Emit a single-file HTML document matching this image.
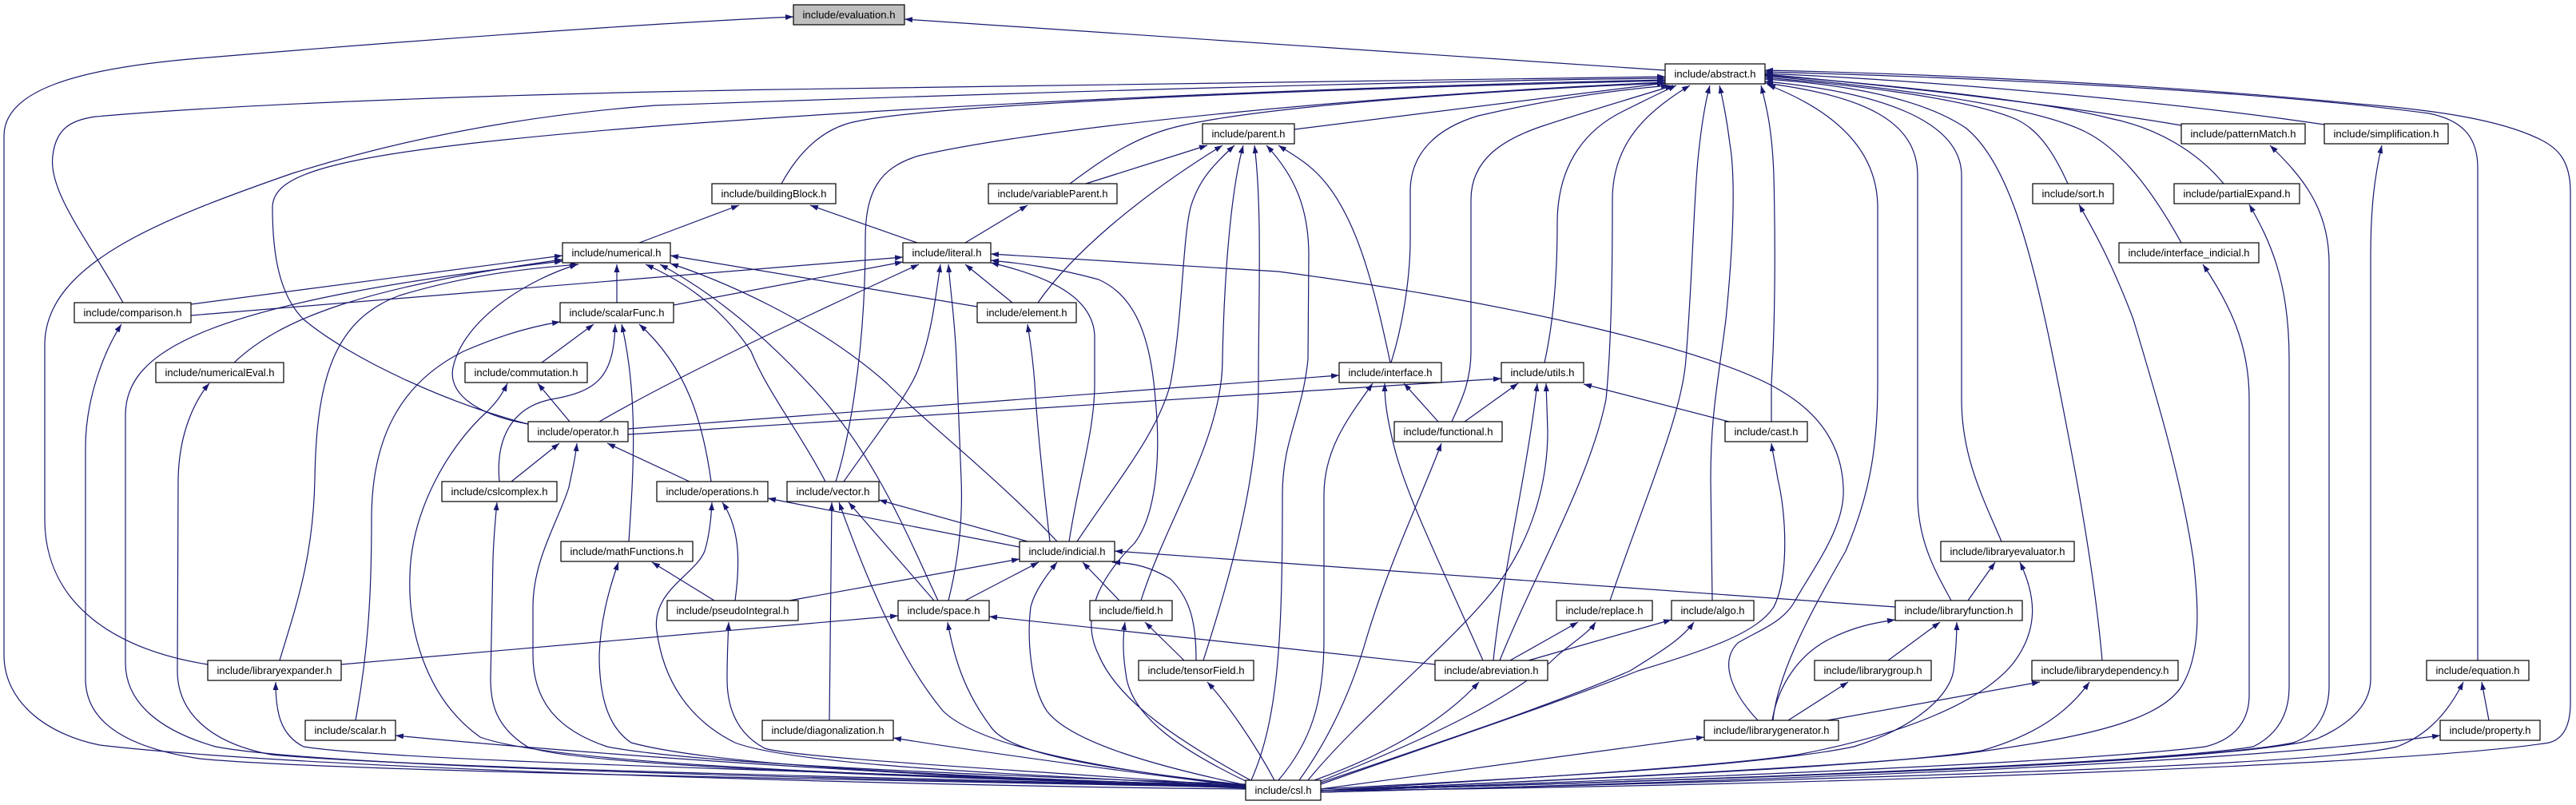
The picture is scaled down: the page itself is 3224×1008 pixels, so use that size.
<!DOCTYPE html>
<html><head><meta charset="utf-8"><style>
html,body{margin:0;padding:0;background:#fff;}
svg{display:block;}
text{font-family:"Liberation Sans",Arial,sans-serif;font-size:13px;fill:#000;}
</style></head><body>
<svg xmlns="http://www.w3.org/2000/svg" width="3224" height="1008" viewBox="0 0 3224 1008">
<defs>
<marker id="ah" viewBox="0 0 10 7" refX="10" refY="3.5" markerWidth="10" markerHeight="7" markerUnits="userSpaceOnUse" orient="auto"><path d="M0,0L10,3.5L0,7z" fill="#191970"/></marker>
</defs>
<rect width="3224" height="1008" fill="#fff"/>
<g fill="none" stroke="#191970" stroke-width="1.2" marker-end="url(#ah)">
<path d="M2084,88 L1132,24"/>
<path d="M1559,988 C1200,985 400,965 125,933 C60,920 5,880 5,820 L5,170 C5,115 90,85 261,72 C500,52 800,30 993,21"/>
<path d="M154,379 C110,300 60,240 66,195 C70,160 90,150 120,146 C300,130 600,120 820,115 C1300,105 1800,98 2084,96"/>
<path d="M260,832 C150,815 56,760 56,650 L56,430 C58,330 200,275 366,217 C500,175 650,145 820,132 C1300,115 1800,101 2084,98"/>
<path d="M661,531 C560,505 440,450 380,400 C350,370 341,320 341,260 C341,215 420,190 820,158 C1300,122 1800,106 2084,100"/>
<path d="M978,230 C1000,190 1030,160 1072,152 C1150,135 1500,115 2084,101"/>
<path d="M1046,603 C1060,560 1083,450 1083,300 C1083,240 1100,210 1150,195 C1300,160 1700,120 2084,103"/>
<path d="M1339,230 C1380,200 1420,170 1480,157 C1600,130 1900,112 2084,104"/>
<path d="M1620,162 L2084,104"/>
<path d="M1741,454 C1758,400 1765,340 1765,300 L1765,240 C1765,190 1800,160 1850,145 C1950,122 2030,112 2089,107"/>
<path d="M1817,528 C1827,505 1841,480 1841,440 L1841,250 C1841,200 1880,175 1930,158 C2000,135 2060,118 2094,107"/>
<path d="M1933,454 C1945,400 1949,340 1949,280 C1949,200 1990,160 2030,140 C2060,125 2080,115 2098,107"/>
<path d="M1877,827 C1920,720 1990,600 2010,500 C2018,420 2018,300 2018,250 C2018,180 2060,140 2115,107"/>
<path d="M2015,752 C2060,620 2105,520 2110,450 C2118,350 2120,250 2125,200 C2130,150 2135,125 2140,107"/>
<path d="M2143,752 L2141,600 C2141,520 2150,480 2160,400 C2170,300 2172,220 2165,180 C2160,140 2155,120 2152,107"/>
<path d="M2217,528 L2217,480 C2222,400 2222,300 2220,220 C2218,160 2210,130 2204,107"/>
<path d="M2219,902 C2225,840 2270,760 2310,690 C2340,620 2350,560 2350,480 L2350,260 C2350,190 2300,140 2212,106"/>
<path d="M2442,752 C2425,720 2400,680 2400,620 L2400,220 C2400,150 2330,120 2209,104"/>
<path d="M2505,678 C2480,620 2455,570 2455,500 L2455,220 C2455,150 2350,115 2209,102"/>
<path d="M2631,827 C2620,700 2590,550 2570,450 C2540,300 2510,200 2460,160 C2400,120 2300,105 2209,99"/>
<path d="M2588,230 C2570,190 2550,160 2520,148 C2450,120 2300,105 2209,97"/>
<path d="M2730,304 C2700,250 2660,190 2610,165 C2540,130 2350,108 2209,95"/>
<path d="M2783,230 C2750,190 2700,160 2640,148 C2550,125 2350,105 2209,94"/>
<path d="M2730,157 C2600,135 2400,110 2209,93"/>
<path d="M2909,156 C2700,125 2400,100 2209,92"/>
<path d="M3101,827 L3101,210 C3101,170 3080,150 3040,142 C2800,110 2400,95 2209,90"/>
<path d="M1653,990 C2200,985 3000,960 3190,930 C3210,925 3217,905 3217,880 L3217,240 C3217,200 3200,185 3180,175 C3130,150 3050,138 2950,130 C2700,105 2400,92 2209,88"/>
<path d="M1359,230 L1511,182"/>
<path d="M1299,379 C1340,320 1420,250 1530,182"/>
<path d="M1348,678 C1400,600 1450,540 1465,480 C1480,400 1480,300 1490,260 C1500,225 1520,205 1545,182"/>
<path d="M1428,752 C1460,650 1530,550 1530,450 C1532,350 1540,240 1556,182"/>
<path d="M1506,827 C1540,720 1575,600 1575,480 C1575,380 1580,260 1570,182"/>
<path d="M1566,977 C1600,900 1605,800 1605,620 C1605,550 1630,520 1637,450 L1638,320 C1638,260 1620,220 1585,182"/>
<path d="M1740,454 C1720,360 1700,280 1660,230 C1640,205 1620,195 1600,182"/>
<path d="M800,304 L925,257"/>
<path d="M1148,304 L1014,257"/>
<path d="M1208,304 L1286,257"/>
<path d="M239,381 L704,320"/>
<path d="M293,454 C350,400 450,360 704,325"/>
<path d="M1559,985 C1000,975 400,960 270,935 C200,915 157,880 157,830 L157,520 C157,440 250,380 704,327"/>
<path d="M661,531 C600,520 560,495 567,460 C580,400 660,350 723,331"/>
<path d="M350,827 C370,760 392,700 394,600 C396,470 420,400 500,370 C600,340 680,335 724,331"/>
<path d="M772,379 L772,331"/>
<path d="M1223,384 L839,320"/>
<path d="M1033,603 C1000,540 960,490 940,440 C900,380 850,350 808,331"/>
<path d="M1174,752 C1140,680 1100,580 1030,500 C950,410 880,360 826,331"/>
<path d="M1323,678 C1250,600 1160,530 1110,480 C1020,400 900,350 839,330"/>
<path d="M239,395 L1130,322"/>
<path d="M843,382 L1130,328"/>
<path d="M750,528 C850,470 1000,400 1150,331"/>
<path d="M1056,603 C1100,540 1140,490 1150,460 C1165,420 1170,380 1177,331"/>
<path d="M1187,752 C1200,700 1205,650 1203,600 L1197,450 C1195,400 1190,370 1187,331"/>
<path d="M1267,379 L1208,331"/>
<path d="M1338,678 C1350,600 1370,540 1370,480 L1370,420 C1368,380 1330,350 1240,329"/>
<path d="M1565,977 C1480,930 1400,880 1375,820 C1350,770 1380,720 1420,680 C1450,640 1452,560 1446,500 C1440,420 1420,370 1375,350 C1320,335 1280,330 1240,326"/>
<path d="M2200,902 C2170,870 2150,830 2175,805 C2200,790 2230,780 2245,755 C2270,710 2310,660 2307,610 C2305,560 2280,520 2230,490 C2150,440 1900,380 1600,340 C1450,330 1300,322 1240,318"/>
<path d="M1314,678 C1305,600 1297,520 1295,480 C1292,440 1288,420 1286,406"/>
<path d="M678,454 L743,406"/>
<path d="M625,603 C620,550 640,510 690,500 C750,490 768,470 770,406"/>
<path d="M787,678 C792,600 800,500 778,406"/>
<path d="M890,603 C880,530 860,460 800,406"/>
<path d="M445,902 C460,820 465,750 465,650 C465,550 500,480 580,440 C630,418 670,408 701,403"/>
<path d="M713,528 L673,480"/>
<path d="M1559,983 C1200,975 700,960 601,923 C540,880 510,800 513,720 C515,640 560,560 610,515 C620,505 628,495 635,480"/>
<path d="M640,603 L700,555"/>
<path d="M1559,982 C1200,970 860,955 760,935 C700,915 667,880 667,820 L667,760 C667,700 700,650 712,610 C716,590 720,575 722,555"/>
<path d="M863,603 L760,555"/>
<path d="M786,537 L1676,470"/>
<path d="M1600,977 C1640,930 1657,880 1657,800 L1657,620 C1657,560 1690,520 1718,480"/>
<path d="M1856,827 C1800,700 1760,620 1745,560 C1735,520 1733,500 1733,480"/>
<path d="M1800,528 L1757,480"/>
<path d="M786,544 L1879,474"/>
<path d="M1833,528 L1900,480"/>
<path d="M1869,827 C1880,720 1910,600 1924,480"/>
<path d="M1637,977 C1700,900 1800,820 1860,750 C1920,680 1937,600 1937,540 L1935,480"/>
<path d="M2164,528 L1982,481"/>
<path d="M1626,977 C1660,930 1690,870 1710,800 C1740,700 1780,620 1804,555"/>
<path d="M1653,982 C1800,930 1950,880 2050,840 C2150,810 2200,790 2220,760 C2240,720 2235,640 2225,600 C2222,580 2219,570 2217,555"/>
<path d="M1890,827 L1975,779"/>
<path d="M1653,978 C1800,920 1900,870 1950,820 C1975,800 1990,790 1997,779"/>
<path d="M1913,827 L2092,776"/>
<path d="M1653,980 C1800,930 1950,880 2040,840 C2080,815 2105,800 2120,779"/>
<path d="M1645,977 C1720,950 1800,910 1851,854"/>
<path d="M427,832 L1124,771"/>
<path d="M1796,832 L1238,772"/>
<path d="M1559,983 C1350,960 1260,940 1240,910 C1210,870 1195,830 1186,779"/>
<path d="M1038,902 L1041,629"/>
<path d="M1559,984 C1350,960 1220,930 1180,890 C1130,830 1090,740 1050,629"/>
<path d="M1169,752 L1062,629"/>
<path d="M1286,678 L1100,626"/>
<path d="M1276,685 L961,624"/>
<path d="M920,752 C927,700 925,660 904,629"/>
<path d="M1559,985 C1300,970 1000,960 920,930 C860,900 830,850 822,790 C815,740 870,720 882,690 C888,670 890,650 891,629"/>
<path d="M1559,985 C1200,975 720,960 660,935 C620,910 614,880 614,850 L617,700 C618,670 620,650 622,629"/>
<path d="M894,752 L816,704"/>
<path d="M1559,985 C1200,972 900,960 790,930 C760,910 750,870 750,820 C752,770 765,730 774,704"/>
<path d="M988,752 L1276,700"/>
<path d="M1208,752 L1300,704"/>
<path d="M1559,983 C1450,960 1340,930 1310,890 C1290,860 1285,800 1290,760 C1295,740 1310,720 1323,704"/>
<path d="M1401,752 L1355,704"/>
<path d="M1497,827 C1497,780 1490,750 1465,725 C1440,710 1420,705 1392,704"/>
<path d="M2372,760 L1395,690"/>
<path d="M1559,985 C1300,965 1000,950 957,937 C925,920 910,890 910,850 C910,820 911,800 912,779"/>
<path d="M1559,978 C1480,940 1420,900 1410,850 C1405,820 1405,800 1408,779"/>
<path d="M1482,827 L1433,779"/>
<path d="M1595,977 C1570,930 1535,880 1511,854"/>
<path d="M1559,985 C1200,970 500,955 380,935 C350,920 345,890 345,854"/>
<path d="M1559,986 C1000,975 400,965 250,950 C150,935 107,900 107,850 L107,560 C107,500 130,440 152,406"/>
<path d="M1559,985 C1000,972 500,960 340,945 C260,930 222,890 222,840 L223,600 C224,540 245,500 262,480"/>
<path d="M1559,987 C1200,975 800,950 495,921"/>
<path d="M1559,985 C1400,965 1250,945 1118,924"/>
<path d="M1653,988 L2133,923"/>
<path d="M2287,902 L2553,854"/>
<path d="M1653,990 C2000,975 2350,960 2480,940 C2550,920 2590,890 2615,854"/>
<path d="M2238,902 L2313,854"/>
<path d="M2218,902 C2225,860 2250,820 2290,800 C2320,785 2345,780 2372,776"/>
<path d="M2363,827 L2428,779"/>
<path d="M1653,988 C1900,975 2200,960 2320,935 C2400,910 2440,870 2445,840 C2448,815 2449,800 2449,779"/>
<path d="M2463,752 L2497,704"/>
<path d="M1653,990 C1900,975 2150,960 2250,945 C2380,920 2480,880 2520,830 C2550,790 2550,750 2528,704"/>
<path d="M1653,990 C2000,975 2300,960 2450,945 C2600,925 2700,905 2730,860 C2755,820 2752,760 2745,700 C2730,600 2700,500 2670,400 C2640,320 2615,280 2602,256"/>
<path d="M1653,990 C2100,975 2600,955 2760,935 C2800,925 2815,900 2815,870 L2815,500 C2815,430 2790,380 2757,331"/>
<path d="M1653,990 C2200,975 2700,955 2820,935 C2850,920 2865,895 2865,860 L2865,450 C2865,350 2840,300 2815,256"/>
<path d="M1653,990 C2200,975 2750,955 2870,930 C2900,920 2915,890 2915,860 L2915,330 C2915,260 2880,220 2841,182"/>
<path d="M1653,990 C2200,975 2800,955 2900,925 C2945,905 2967,880 2967,850 L2967,320 C2967,260 2972,220 2981,182"/>
<path d="M1653,992 C2300,975 2900,960 3000,935 C3040,920 3065,890 3083,854"/>
<path d="M1653,992 C2300,975 2800,955 3054,921"/>
<path d="M3115,902 L3106,854"/>
</g>
<g stroke="#000" stroke-width="1.2">
<rect x="993" y="6" width="139" height="25" fill="#bfbfbf"/>
<rect x="2084" y="80" width="125" height="25" fill="#fff"/>
<rect x="1505" y="155" width="115" height="25" fill="#fff"/>
<rect x="2730" y="155" width="155" height="25" fill="#fff"/>
<rect x="2909" y="155" width="155" height="25" fill="#fff"/>
<rect x="891" y="230" width="155" height="25" fill="#fff"/>
<rect x="1237" y="230" width="161" height="25" fill="#fff"/>
<rect x="2544" y="230" width="101" height="25" fill="#fff"/>
<rect x="2721" y="230" width="157" height="25" fill="#fff"/>
<rect x="704" y="304" width="135" height="25" fill="#fff"/>
<rect x="1130" y="304" width="110" height="25" fill="#fff"/>
<rect x="2652" y="304" width="175" height="25" fill="#fff"/>
<rect x="93" y="379" width="146" height="25" fill="#fff"/>
<rect x="701" y="379" width="142" height="25" fill="#fff"/>
<rect x="1223" y="379" width="124" height="25" fill="#fff"/>
<rect x="195" y="454" width="160" height="25" fill="#fff"/>
<rect x="582" y="454" width="153" height="25" fill="#fff"/>
<rect x="1676" y="454" width="128" height="25" fill="#fff"/>
<rect x="1879" y="454" width="103" height="25" fill="#fff"/>
<rect x="661" y="528" width="125" height="25" fill="#fff"/>
<rect x="1745" y="528" width="135" height="25" fill="#fff"/>
<rect x="2159" y="528" width="103" height="25" fill="#fff"/>
<rect x="553" y="603" width="144" height="25" fill="#fff"/>
<rect x="822" y="603" width="139" height="25" fill="#fff"/>
<rect x="985" y="603" width="115" height="25" fill="#fff"/>
<rect x="702" y="678" width="165" height="25" fill="#fff"/>
<rect x="1276" y="678" width="119" height="25" fill="#fff"/>
<rect x="2429" y="678" width="167" height="25" fill="#fff"/>
<rect x="835" y="752" width="164" height="25" fill="#fff"/>
<rect x="1124" y="752" width="114" height="25" fill="#fff"/>
<rect x="1364" y="752" width="103" height="25" fill="#fff"/>
<rect x="1948" y="752" width="120" height="25" fill="#fff"/>
<rect x="2092" y="752" width="103" height="25" fill="#fff"/>
<rect x="2372" y="752" width="159" height="25" fill="#fff"/>
<rect x="260" y="827" width="167" height="25" fill="#fff"/>
<rect x="1425" y="827" width="144" height="25" fill="#fff"/>
<rect x="1796" y="827" width="141" height="25" fill="#fff"/>
<rect x="2271" y="827" width="146" height="25" fill="#fff"/>
<rect x="2543" y="827" width="183" height="25" fill="#fff"/>
<rect x="3037" y="827" width="128" height="25" fill="#fff"/>
<rect x="382" y="902" width="113" height="25" fill="#fff"/>
<rect x="954" y="902" width="164" height="25" fill="#fff"/>
<rect x="2133" y="902" width="168" height="25" fill="#fff"/>
<rect x="3054" y="902" width="125" height="25" fill="#fff"/>
<rect x="1559" y="977" width="94" height="25" fill="#fff"/>
</g>
<g text-anchor="middle" lengthAdjust="spacingAndGlyphs">
<text x="1062.5" y="23" textLength="116" lengthAdjust="spacingAndGlyphs">include/evaluation.h</text>
<text x="2146.5" y="97" textLength="102" lengthAdjust="spacingAndGlyphs">include/abstract.h</text>
<text x="1562.5" y="172" textLength="92" lengthAdjust="spacingAndGlyphs">include/parent.h</text>
<text x="2807.5" y="172" textLength="132" lengthAdjust="spacingAndGlyphs">include/patternMatch.h</text>
<text x="2986.5" y="172" textLength="132" lengthAdjust="spacingAndGlyphs">include/simplification.h</text>
<text x="968.5" y="247" textLength="132" lengthAdjust="spacingAndGlyphs">include/buildingBlock.h</text>
<text x="1317.5" y="247" textLength="138" lengthAdjust="spacingAndGlyphs">include/variableParent.h</text>
<text x="2594.5" y="247" textLength="78" lengthAdjust="spacingAndGlyphs">include/sort.h</text>
<text x="2799.5" y="247" textLength="134" lengthAdjust="spacingAndGlyphs">include/partialExpand.h</text>
<text x="771.5" y="321" textLength="112" lengthAdjust="spacingAndGlyphs">include/numerical.h</text>
<text x="1185" y="321" textLength="87" lengthAdjust="spacingAndGlyphs">include/literal.h</text>
<text x="2739.5" y="321" textLength="152" lengthAdjust="spacingAndGlyphs">include/interface_indicial.h</text>
<text x="166" y="396" textLength="123" lengthAdjust="spacingAndGlyphs">include/comparison.h</text>
<text x="772" y="396" textLength="119" lengthAdjust="spacingAndGlyphs">include/scalarFunc.h</text>
<text x="1285" y="396" textLength="101" lengthAdjust="spacingAndGlyphs">include/element.h</text>
<text x="275" y="471" textLength="137" lengthAdjust="spacingAndGlyphs">include/numericalEval.h</text>
<text x="658.5" y="471" textLength="130" lengthAdjust="spacingAndGlyphs">include/commutation.h</text>
<text x="1740" y="471" textLength="105" lengthAdjust="spacingAndGlyphs">include/interface.h</text>
<text x="1930.5" y="471" textLength="80" lengthAdjust="spacingAndGlyphs">include/utils.h</text>
<text x="723.5" y="545" textLength="102" lengthAdjust="spacingAndGlyphs">include/operator.h</text>
<text x="1812.5" y="545" textLength="112" lengthAdjust="spacingAndGlyphs">include/functional.h</text>
<text x="2210.5" y="545" textLength="80" lengthAdjust="spacingAndGlyphs">include/cast.h</text>
<text x="625" y="620" textLength="121" lengthAdjust="spacingAndGlyphs">include/cslcomplex.h</text>
<text x="891.5" y="620" textLength="116" lengthAdjust="spacingAndGlyphs">include/operations.h</text>
<text x="1042.5" y="620" textLength="92" lengthAdjust="spacingAndGlyphs">include/vector.h</text>
<text x="784.5" y="695" textLength="142" lengthAdjust="spacingAndGlyphs">include/mathFunctions.h</text>
<text x="1335.5" y="695" textLength="96" lengthAdjust="spacingAndGlyphs">include/indicial.h</text>
<text x="2512.5" y="695" textLength="144" lengthAdjust="spacingAndGlyphs">include/libraryevaluator.h</text>
<text x="917" y="769" textLength="141" lengthAdjust="spacingAndGlyphs">include/pseudoIntegral.h</text>
<text x="1181" y="769" textLength="91" lengthAdjust="spacingAndGlyphs">include/space.h</text>
<text x="1415.5" y="769" textLength="80" lengthAdjust="spacingAndGlyphs">include/field.h</text>
<text x="2008" y="769" textLength="97" lengthAdjust="spacingAndGlyphs">include/replace.h</text>
<text x="2143.5" y="769" textLength="80" lengthAdjust="spacingAndGlyphs">include/algo.h</text>
<text x="2451.5" y="769" textLength="136" lengthAdjust="spacingAndGlyphs">include/libraryfunction.h</text>
<text x="343.5" y="844" textLength="144" lengthAdjust="spacingAndGlyphs">include/libraryexpander.h</text>
<text x="1497" y="844" textLength="121" lengthAdjust="spacingAndGlyphs">include/tensorField.h</text>
<text x="1866.5" y="844" textLength="118" lengthAdjust="spacingAndGlyphs">include/abreviation.h</text>
<text x="2344" y="844" textLength="123" lengthAdjust="spacingAndGlyphs">include/librarygroup.h</text>
<text x="2634.5" y="844" textLength="160" lengthAdjust="spacingAndGlyphs">include/librarydependency.h</text>
<text x="3101" y="844" textLength="105" lengthAdjust="spacingAndGlyphs">include/equation.h</text>
<text x="438.5" y="919" textLength="90" lengthAdjust="spacingAndGlyphs">include/scalar.h</text>
<text x="1036" y="919" textLength="141" lengthAdjust="spacingAndGlyphs">include/diagonalization.h</text>
<text x="2217" y="919" textLength="145" lengthAdjust="spacingAndGlyphs">include/librarygenerator.h</text>
<text x="3116.5" y="919" textLength="102" lengthAdjust="spacingAndGlyphs">include/property.h</text>
<text x="1606" y="994" textLength="71" lengthAdjust="spacingAndGlyphs">include/csl.h</text>
</g>
</svg>
</body></html>
